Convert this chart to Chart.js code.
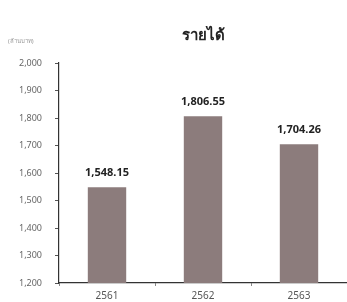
<!DOCTYPE html>
<html>
<head>
<meta charset="utf-8">
<script src="https://cdn.jsdelivr.net/npm/chart.js@4"></script>
<style>
  html, body { margin: 0; padding: 0; background: #fff; }
  #wrap { width: 347px; height: 302px; position: relative; }
</style>
</head>
<body>
<div id="wrap"><canvas id="chart"></canvas></div>
<script>
const years = ['2561', '2562', '2563'];
const revenue = [1548.15, 1806.55, 1704.26];
const yMin = 1200;
const yMax = 2000;
const chartTitle = 'รายได้';
const unitLabel = '(ล้านบาท)';

const fontFamily = '"Noto Sans", "DejaVu Sans", sans-serif';

// title, unit and value labels
const labelsPlugin = {
  id: 'labels',
  afterDatasetsDraw(chart) {
    const c = chart.ctx;
    const area = chart.chartArea;
    c.save();
    c.fillStyle = '#222';
    c.textAlign = 'center';
    c.textBaseline = 'alphabetic';
    c.font = 'bold 15px ' + fontFamily;
    c.fillText(chartTitle, (area.left + area.right) / 2, 40);

    c.fillStyle = '#999';
    c.font = '6px ' + fontFamily;
    c.textAlign = 'left';
    c.fillText(unitLabel, 8, 43);

    c.fillStyle = '#222';
    c.font = 'bold 11px ' + fontFamily;
    c.textAlign = 'center';
    chart.getDatasetMeta(0).data.forEach((bar, i) => {
      const txt = revenue[i].toLocaleString('en-US', {minimumFractionDigits: 2});
      c.fillText(txt, bar.x, bar.y - 11);
    });
    c.restore();
  }
};

new Chart(document.getElementById('chart'), {
  type: 'bar',
  data: {
    labels: years,
    datasets: [{
      data: revenue,
      backgroundColor: '#8c7c7c',
      categoryPercentage: 1,
      barPercentage: 0.4
    }]
  },
  options: {
    responsive: true,
    maintainAspectRatio: false,
    animation: false,
    layout: { padding: { top: 63, right: 0, left: 6, bottom: -4 } },
    plugins: { legend: { display: false }, tooltip: { enabled: false } },
    scales: {
      x: {
        grid: { drawOnChartArea: false, color: '#444', tickLength: 3, tickColor: '#888' },
        border: { color: '#333', width: 1.2 },
        ticks: { color: '#555', font: { size: 10, family: fontFamily }, padding: 4 }
      },
      y: {
        min: yMin,
        max: yMax,
        grid: { drawOnChartArea: false, tickLength: 4, tickColor: '#555' },
        border: { color: '#333', width: 1.2 },
        ticks: { stepSize: 100, color: '#666', font: { size: 9, family: fontFamily }, padding: 13 }
      }
    }
  },
  plugins: [labelsPlugin]
});
</script>
</body>
</html>
